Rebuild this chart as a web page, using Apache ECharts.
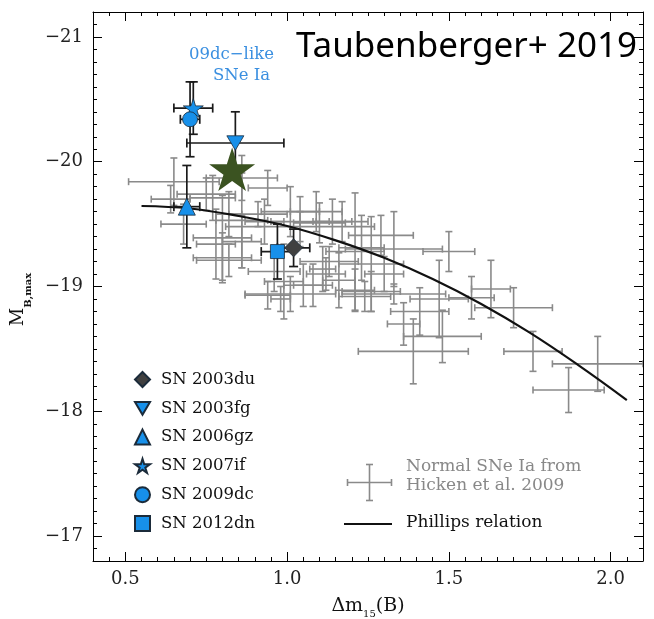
<!DOCTYPE html>
<html>
<head>
<meta charset="utf-8">
<script src="https://cdn.jsdelivr.net/npm/echarts@6/dist/echarts.min.js"></script>
<style>
  html, body { margin: 0; padding: 0; background: #fff; }
  #main { width: 654px; height: 619px; }
</style>
</head>
<body>
<div id="main"></div>
<script>
// normal SNe Ia (Hicken et al. 2009)
var normalX    = [0.65, 0.86, 0.94, 0.77, 0.64, 0.68, 0.80, 0.82, 0.86, 0.75, 0.82, 0.93, 0.94, 0.98, 1.01, 1.04, 1.09, 1.14, 1.17, 1.21, 1.23, 1.26, 1.33, 0.80, 0.99, 1.01, 1.05, 1.08, 1.12, 1.10, 1.11, 1.21, 1.26, 1.04, 1.29, 1.41, 1.36, 1.39, 1.48, 1.47, 1.57, 1.63, 1.70, 1.76, 1.96, 1.87, 1.50, 0.78, 0.86, 1.24, 1.33, 1.13, 0.91, 1.16, 1.30, 0.96];
var normalM    = [-19.84, -19.87, -19.79, -19.71, -19.70, -19.50, -19.39, -19.21, -19.53, -19.74, -19.58, -19.52, -18.93, -18.90, -19.60, -19.52, -19.60, -19.52, -19.52, -19.28, -19.31, -19.18, -19.30, -19.23, -19.04, -18.94, -19.01, -19.01, -19.10, -19.51, -19.14, -18.97, -18.96, -19.48, -19.41, -18.80, -18.70, -18.48, -18.60, -18.90, -18.91, -18.98, -18.83, -18.48, -18.38, -18.17, -19.28, -19.34, -19.36, -18.92, -18.94, -19.20, -19.58, -19.05, -19.10, -19.12];
var normalXErr = [0.14, 0.11, 0.06, 0.07, 0.06, 0.07, 0.09, 0.10, 0.08, 0.09, 0.04, 0.06, 0.07, 0.03, 0.09, 0.09, 0.08, 0.06, 0.08, 0.09, 0.07, 0.10, 0.15, 0.09, 0.06, 0.14, 0.06, 0.06, 0.06, 0.08, 0.04, 0.06, 0.09, 0.23, 0.10, 0.09, 0.05, 0.17, 0.12, 0.09, 0.07, 0.06, 0.12, 0.09, 0.14, 0.11, 0.08, 0.06, 0.06, 0.08, 0.16, 0.09, 0.09, 0.05, 0.06, 0.08];
var normalMErr = [0.19, 0.18, 0.14, 0.18, 0.11, 0.16, 0.34, 0.13, 0.38, 0.13, 0.18, 0.18, 0.11, 0.10, 0.20, 0.20, 0.16, 0.18, 0.16, 0.47, 0.26, 0.38, 0.30, 0.20, 0.30, 0.14, 0.17, 0.17, 0.13, 0.16, 0.18, 0.17, 0.16, 0.12, 0.16, 0.19, 0.17, 0.26, 0.21, 0.31, 0.17, 0.23, 0.16, 0.16, 0.22, 0.18, 0.16, 0.28, 0.21, 0.12, 0.08, 0.12, 0.10, 0.22, 0.14, 0.16];

// Phillips relation, points
var phillipsX = [0.55, 0.70, 0.85, 1.00, 1.15, 1.30, 1.45, 1.60, 1.75, 1.90, 2.05];
var phillipsM = [-19.645, -19.625, -19.565, -19.485, -19.37, -19.23, -19.06, -18.86, -18.63, -18.37, -18.09];

// 09dc-like SNe Ia
var snNames = ['SN 2003du', 'SN 2003fg', 'SN 2006gz', 'SN 2007if', 'SN 2009dc', 'SN 2012dn'];
var snX     = [1.02, 0.84, 0.69, 0.71, 0.70, 0.97];
var snM     = [-19.31, -20.15, -19.64, -20.43, -20.34, -19.28];
var snXErr  = [0.05, 0.15, 0.04, 0.06, 0.03, 0.05];
var snMErr  = [0.15, 0.25, 0.33, 0.21, 0.30, 0.22];

// the big green star
var starX = [0.83];
var starM = [-19.94];

var xTicks = [0.5, 1.0, 1.5, 2.0];
var yTicks = [-21, -20, -19, -18, -17];

var serif = 'DejaVu Serif';
var blue = '#1790ea';
var starPath = 'path://M50,0 L61,35 L98,35 L68,57 L79,91 L50,70 L21,91 L32,57 L2,35 L39,35 Z';
var downTri = 'path://M0,0 L20,0 L10,17 Z';
var snSymbols = ['diamond', downTri, 'triangle', starPath, 'circle', 'rect'];
var snSizes   = [18, 17, 17, 20, 15, 14];
var snColors  = ['#404040', blue, blue, blue, blue, blue];

function crossRender(color, cap, width) {
  return function (params, api) {
    var x = api.value(0), y = api.value(1), ex = api.value(2), ey = api.value(3);
    var l = api.coord([x - ex, y]), r = api.coord([x + ex, y]);
    var t = api.coord([x, y - ey]), b = api.coord([x, y + ey]);
    var st = { stroke: color, lineWidth: width };
    return {
      type: 'group',
      children: [
        { type: 'line', shape: { x1: l[0], y1: l[1], x2: r[0], y2: r[1] }, style: st },
        { type: 'line', shape: { x1: t[0], y1: t[1], x2: b[0], y2: b[1] }, style: st },
        { type: 'line', shape: { x1: l[0], y1: l[1] - cap, x2: l[0], y2: l[1] + cap }, style: st },
        { type: 'line', shape: { x1: r[0], y1: r[1] - cap, x2: r[0], y2: r[1] + cap }, style: st },
        { type: 'line', shape: { x1: t[0] - cap, y1: t[1], x2: t[0] + cap, y2: t[1] }, style: st },
        { type: 'line', shape: { x1: b[0] - cap, y1: b[1], x2: b[0] + cap, y2: b[1] }, style: st }
      ]
    };
  };
}

function xAxisDef(pos, major, withLabels) {
  var ax = {
    type: 'value', min: 0.4, max: 2.1, position: pos,
    axisLine: { show: major, onZero: false, lineStyle: { color: '#000', width: 1 } },
    splitLine: { show: false },
    axisTick: { inside: true, length: major ? 9 : 4, lineStyle: { color: '#000', width: 1 } },
    axisLabel: { show: false }
  };
  if (major) {
    ax.axisTick.customValues = xTicks;
    ax.axisLabel = {
      show: withLabels, customValues: xTicks, margin: 9,
      formatter: function (v) { return v.toFixed(1); },
      color: '#222', fontFamily: serif, fontSize: 18
    };
  } else {
    ax.interval = 0.05;
  }
  if (withLabels) {
    ax.name = '\u0394m{s|15}(B)';
    ax.nameLocation = 'middle';
    ax.nameGap = 29;
    ax.nameTextStyle = {
      fontFamily: serif, fontSize: 19, color: '#111', lineHeight: 24,
      rich: { s: { fontFamily: serif, fontSize: 10, lineHeight: 27, verticalAlign: 'bottom', color: '#111' } }
    };
  }
  return ax;
}

function yAxisDef(pos, major, withLabels) {
  var ax = {
    type: 'value', min: -21.2, max: -16.8, inverse: true, position: pos,
    axisLine: { show: major, onZero: false, lineStyle: { color: '#000', width: 1 } },
    splitLine: { show: false },
    axisTick: { inside: true, length: major ? 9 : 4, lineStyle: { color: '#000', width: 1 } },
    axisLabel: { show: false }
  };
  if (major) {
    ax.axisTick.customValues = yTicks;
    ax.axisLabel = {
      show: withLabels, customValues: yTicks, margin: 10,
      formatter: function (v) { return '\u2212' + Math.abs(v); },
      color: '#222', fontFamily: serif, fontSize: 18
    };
  } else {
    ax.interval = 0.1;
  }
  if (withLabels) {
    ax.name = 'M{s|B,max}';
    ax.nameLocation = 'middle';
    ax.nameGap = 60;
    ax.nameRotate = 90;
    ax.nameTextStyle = {
      fontFamily: serif, fontSize: 18, color: '#111', lineHeight: 26,
      padding: [0, 26, 0, 0],
      rich: { s: { fontFamily: serif, fontSize: 10, fontWeight: 'bold', lineHeight: 30, verticalAlign: 'bottom', color: '#111' } }
    };
  }
  return ax;
}

var series = [];

series.push({
  name: 'Normal SNe Ia',
  type: 'custom',
  z: 2,
  clip: true,
  silent: true,
  encode: { x: 0, y: 1 },
  renderItem: crossRender('#8a8a8a', 3.5, 1.6),
  data: normalX.map(function (x, i) { return [x, normalM[i], normalXErr[i], normalMErr[i]]; })
});

series.push({
  name: 'Phillips relation',
  type: 'line',
  z: 3,
  smooth: 0.4,
  showSymbol: false,
  silent: true,
  lineStyle: { color: '#111', width: 2.2 },
  data: phillipsX.map(function (x, i) { return [x, phillipsM[i]]; })
});

series.push({
  name: 'sn errors',
  type: 'custom',
  z: 4,
  silent: true,
  encode: { x: 0, y: 1 },
  renderItem: crossRender('#1a1a1a', 4.5, 1.7),
  data: snX.map(function (x, i) { return [x, snM[i], snXErr[i], snMErr[i]]; })
});

snNames.forEach(function (name, i) {
  series.push({
    name: name,
    type: 'scatter',
    z: 5,
    symbol: snSymbols[i],
    symbolSize: snSizes[i],
    symbolKeepAspect: true,
    itemStyle: { color: snColors[i], borderColor: '#1b2b3a', borderWidth: 0.8, opacity: 1 },
    data: [[snX[i], snM[i]]]
  });
});

series.push({
  name: 'green star',
  type: 'scatter',
  z: 6,
  symbol: starPath,
  symbolSize: 46,
  symbolKeepAspect: true,
  itemStyle: { color: '#3b5321', opacity: 1 },
  data: starX.map(function (x, i) { return [x, starM[i]]; })
});

var chart = echarts.init(document.getElementById('main'));
chart.setOption({
  animation: false,
  backgroundColor: '#fff',
  title: {
    text: 'Taubenberger+ 2019',
    right: 12, top: 25,
    textStyle: { fontFamily: 'Noto Sans', fontSize: 35, fontWeight: 'normal', color: '#000' }
  },
  grid: { left: 93, right: 11, top: 12, bottom: 58, containLabel: false, outerBoundsMode: 'none' },
  xAxis: [
    xAxisDef('bottom', true, true),
    xAxisDef('bottom', false, false),
    xAxisDef('top', true, false),
    xAxisDef('top', false, false)
  ],
  yAxis: [
    yAxisDef('left', true, true),
    yAxisDef('left', false, false),
    yAxisDef('right', true, false),
    yAxisDef('right', false, false)
  ],
  legend: {
    data: snNames.map(function (n, i) { return { name: n, icon: snSymbols[i] }; }),
    orient: 'vertical',
    left: 129, top: 366,
    itemWidth: 15, itemHeight: 15, itemGap: 11.8,
    selectedMode: false,
    textStyle: { fontFamily: serif, fontSize: 16.5, color: '#111', padding: [0, 0, 0, 6] }
  },
  graphic: [
    { type: 'text', left: 189, top: 46, style: { text: '09dc\u2212like', font: '16.5px "DejaVu Serif"', fill: '#3a8fe0' } },
    { type: 'text', left: 213, top: 67, style: { text: 'SNe Ia', font: '16.5px "DejaVu Serif"', fill: '#3a8fe0' } },
    {
      type: 'group', left: 345, top: 462,
      children: [
        { type: 'line', shape: { x1: 0, y1: 18, x2: 44, y2: 18 }, style: { stroke: '#8a8a8a', lineWidth: 1.6 } },
        { type: 'line', shape: { x1: 22, y1: 0, x2: 22, y2: 36 }, style: { stroke: '#8a8a8a', lineWidth: 1.6 } },
        { type: 'line', shape: { x1: 0, y1: 14.5, x2: 0, y2: 21.5 }, style: { stroke: '#8a8a8a', lineWidth: 1.6 } },
        { type: 'line', shape: { x1: 44, y1: 14.5, x2: 44, y2: 21.5 }, style: { stroke: '#8a8a8a', lineWidth: 1.6 } },
        { type: 'line', shape: { x1: 18.5, y1: 0, x2: 25.5, y2: 0 }, style: { stroke: '#8a8a8a', lineWidth: 1.6 } },
        { type: 'line', shape: { x1: 18.5, y1: 36, x2: 25.5, y2: 36 }, style: { stroke: '#8a8a8a', lineWidth: 1.6 } }
      ]
    },
    { type: 'text', left: 406, top: 458, style: { text: 'Normal SNe Ia from', font: '17px "DejaVu Serif"', fill: '#888' } },
    { type: 'text', left: 406, top: 477, style: { text: 'Hicken et al. 2009', font: '17px "DejaVu Serif"', fill: '#888' } },
    { type: 'line', shape: { x1: 344, y1: 524, x2: 392, y2: 524 }, style: { stroke: '#111', lineWidth: 2.2 } },
    { type: 'text', left: 406, top: 514, style: { text: 'Phillips relation', font: '17px "DejaVu Serif"', fill: '#111' } }
  ],
  series: series
});
</script>
</body>
</html>
